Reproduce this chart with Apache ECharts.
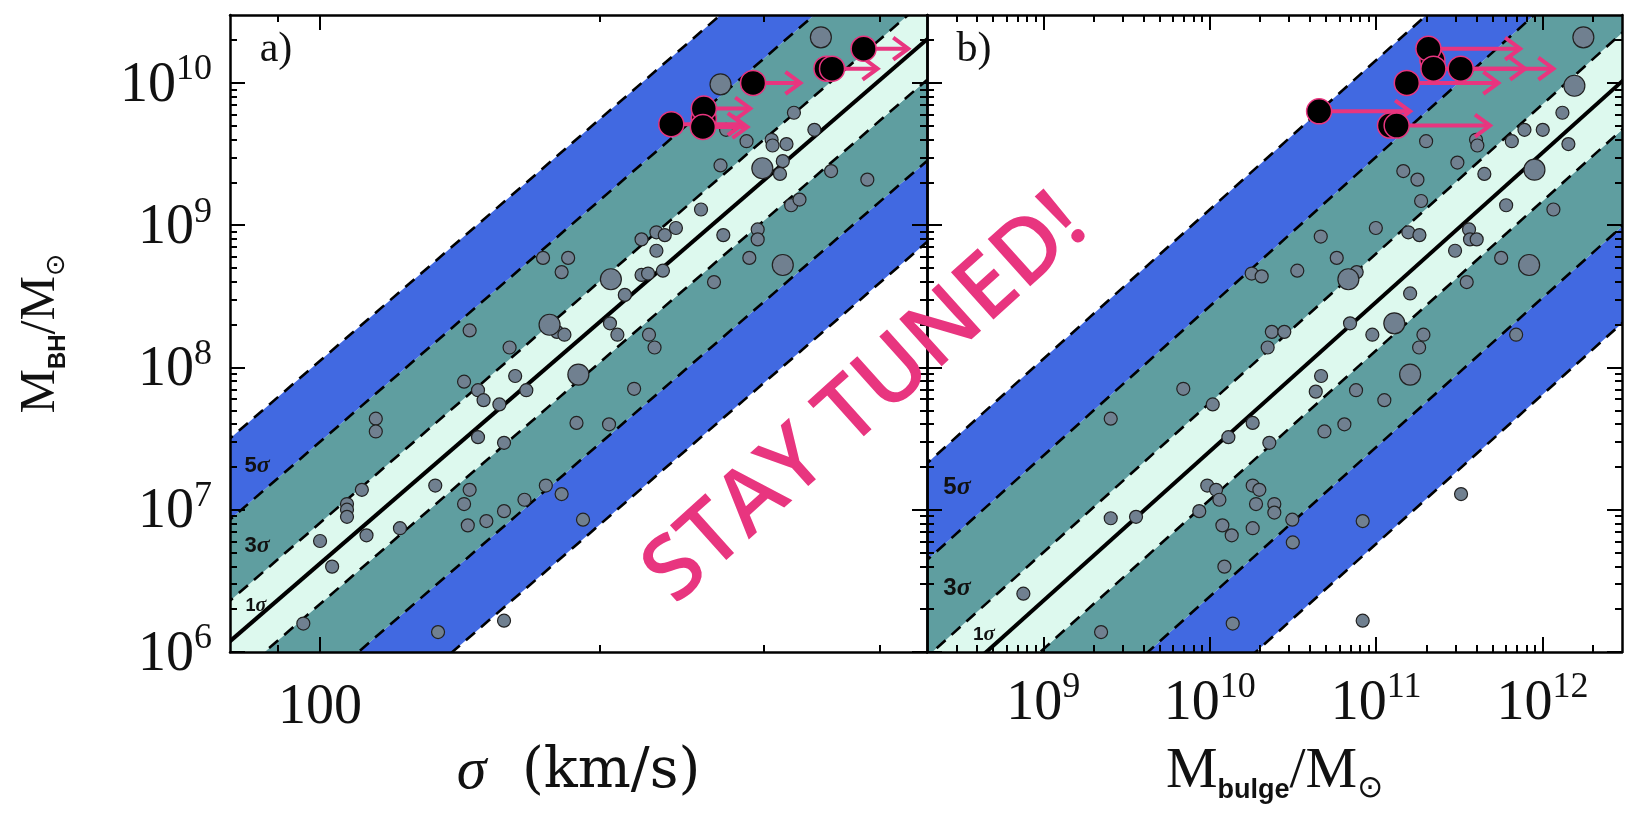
<!DOCTYPE html>
<html>
<head>
<meta charset="utf-8">
<script src="https://cdn.jsdelivr.net/npm/echarts@6/dist/echarts.min.js"></script>
<style>
  html, body { margin: 0; padding: 0; background: #fff; }
  #chart { width: 1625px; height: 814px; }
</style>
</head>
<body>
<div id="chart"></div>
<script>
// ---------------- data (log10 values) ----------------
// Panel a: M_BH vs velocity dispersion (km/s)
const logSigma = [
  2.510, 2.532, 2.437, 2.459, 2.486, 2.487, 2.502, 2.431,
  2.498, 2.495, 2.550, 2.589, 2.410, 2.507, 2.516, 2.362, 2.371, 2.383, 2.346, 2.434, 2.471, 2.471, 2.362, 2.462,
  2.346, 2.353, 2.369, 2.424, 2.328, 2.312, 2.240, 2.267, 2.260, 2.161,
  2.255, 2.263, 2.320, 2.354, 2.360, 2.204, 2.155, 2.170, 2.176, 2.193, 2.210, 2.222,
  2.338, 2.276, 2.311, 2.170, 2.198, 2.124, 2.161, 2.155, 2.159, 2.179, 2.198, 2.220, 2.243, 2.260, 2.283,
  2.198, 2.127, 2.060, 2.060, 2.045, 2.029, 2.029, 2.029, 2.086, 2.050, 2.000, 2.013, 1.982
];
const logMbhSigma = [
  9.79, 9.67, 9.67, 9.59, 9.60, 9.56, 9.57, 9.42,
  9.45, 9.36, 9.38, 9.32, 9.11, 9.14, 9.18, 8.95, 8.93, 8.98, 8.90, 8.93, 8.97, 8.90, 8.82, 8.77,
  8.65, 8.66, 8.68, 8.60, 8.51, 8.31, 8.77, 8.77, 8.67, 8.26,
  8.25, 8.23, 8.23, 8.23, 8.14, 8.14, 7.90, 7.84, 7.77, 7.74, 7.94, 7.84,
  7.85, 7.61, 7.60, 7.51, 7.47, 7.17, 7.14, 7.04, 6.89, 6.92, 6.99, 7.07, 7.17, 7.11, 6.93,
  6.22, 6.14, 7.64, 7.55, 7.14, 7.04, 7.00, 6.95, 6.87, 6.82, 6.78, 6.60, 6.20
];
const logSigmaLarge = [2.539, 2.431, 2.476, 2.498, 2.313, 2.247, 2.278];
const logMbhSigmaLarge = [10.32, 9.99, 9.40, 8.72, 8.62, 8.30, 7.95];
// lower limits on sigma (arrow tips; null = no arrow drawn)
const logSigmaLimit   = [2.413, 2.585, 2.545, 2.551, 2.466, 2.413, 2.378, 2.412];
const logMbhSigmaLim  = [9.75, 10.24, 10.10, 10.10, 10.00, 9.82, 9.71, 9.69];
const logSigmaArrowTo = [null, 2.633, 2.600, null, 2.517, 2.463, 2.455, 2.460];

// Panel b: M_BH vs bulge mass (solar masses)
const logBulge = [
  12.119, 11.891, 12.001, 11.815, 12.155, 11.300, 11.600, 11.608, 11.488, 11.650,
  11.163, 11.248, 11.270, 11.781, 12.065, 10.998, 10.667, 11.193, 11.260, 11.558, 11.564, 11.604, 10.763, 11.474, 11.751,
  10.252, 10.312, 10.526, 10.883, 11.204, 11.544, 10.843, 10.373, 10.448, 10.348, 10.977,
  10.669, 10.637, 10.879, 11.049, 9.841, 10.018, 9.405, 10.258, 10.112, 10.358, 10.689, 10.809,
  9.985, 10.038, 10.058, 10.258, 10.298, 10.278, 10.388, 10.388, 10.496, 9.937, 9.405, 9.557, 10.076, 10.132, 10.258,
  10.499, 10.919, 10.088, 8.880, 9.347, 10.138, 10.919, 11.284, 11.258, 11.841, 11.510
];
const logMbhBulge = [
  9.79, 9.67, 9.67, 9.59, 9.57, 9.59, 9.60, 9.56, 9.44, 9.36,
  9.38, 9.32, 9.17, 9.14, 9.11, 8.98, 8.92, 8.95, 8.93, 8.97, 8.90, 8.90, 8.77, 8.82, 8.77,
  8.66, 8.64, 8.68, 8.67, 8.52, 8.60, 8.31, 8.25, 8.25, 8.14, 8.23,
  7.94, 7.83, 7.84, 7.77, 7.85, 7.74, 7.64, 7.61, 7.51, 7.47, 7.55, 7.60,
  7.17, 7.14, 7.07, 7.17, 7.14, 7.04, 7.04, 6.98, 6.93, 6.99, 6.94, 6.95, 6.89, 6.82, 6.87,
  6.77, 6.92, 6.60, 6.41, 6.14, 6.20, 6.22, 8.23, 8.14, 8.23, 7.11
];
const logBulgeLarge = [12.245, 12.191, 11.951, 11.919, 10.833, 11.109, 11.204];
const logMbhBulgeLarge = [10.32, 9.98, 9.39, 8.72, 8.62, 8.31, 7.95];
const logBulgeLimit   = [11.338, 11.314, 11.344, 11.508, 11.184, 10.657, 11.083, 11.123];
const logMbhBulgeLim  = [10.16, 10.24, 10.10, 10.10, 10.00, 9.80, 9.70, 9.70];
const logBulgeArrowTo = [null, 11.865, 11.895, 12.065, 11.734, 11.204, 11.684, null];

// Scaling relations: [intercept, slope, pivot (log10), intrinsic scatter (dex)]
const fitSigma = [8.32, 5.64, Math.log10(200), 0.285];
const fitBulge = [8.46, 1.05, 11.0, 0.34];
const scatterBands = [[-5, -3], [-3, -1], [-1, 1], [1, 3], [3, 5]];
const scatterLines = [-5, -3, -1, 0, 1, 3, 5];

// Axis ranges and ticks
const sigmaRange = [80, 450];
const bulgeRange = [2e8, 3e12];
const mbhRange = [1e6, 3e10];
const sigmaMajor = [100];
const sigmaMinor = [90, 200, 300, 400];
const bulgeMajor = [1e9, 1e10, 1e11, 1e12];
const mbhMajor = [1e6, 1e7, 1e8, 1e9, 1e10];

// ---------------- styling ----------------
const BLUE = '#4169E1', TEAL = '#5F9EA0', MINT = '#DDF9EE';
const GRAY = '#708090', PINK = '#E8357F';
const SERIF = '"Liberation Serif", "DejaVu Serif", serif';
const WIDE_SERIF = '"DejaVu Serif", "Liberation Serif", serif';
const SANS = '"Liberation Sans", "DejaVu Sans", sans-serif';
const bandColors = [BLUE, TEAL, MINT, TEAL, BLUE];

function decadeMinors(lo, hi) {
  const out = [];
  for (let e = Math.floor(Math.log10(lo)); e <= Math.ceil(Math.log10(hi)); e++) {
    for (let m = 2; m <= 9; m++) {
      const v = m * Math.pow(10, e);
      if (v > lo * 1.001 && v < hi * 0.999) out.push(v);
    }
  }
  return out;
}
const bulgeMinor = decadeMinors(bulgeRange[0], bulgeRange[1]);
const mbhMinor = decadeMinors(mbhRange[0], mbhRange[1]);

const pow10 = v => Math.pow(10, v);
const powLabel = v => '{b|10}{e|' + Math.round(Math.log10(v)) + '}';
const powRich = {
  b: { fontFamily: SERIF, fontSize: 56, color: '#111', lineHeight: 62, verticalAlign: 'bottom' },
  e: { fontFamily: SERIF, fontSize: 36, color: '#111', lineHeight: 35, verticalAlign: 'top' }
};
const xNameRich = {
  m: { fontFamily: SERIF, fontSize: 58, color: '#111', lineHeight: 64 },
  w: { fontFamily: WIDE_SERIF, fontSize: 56, color: '#111', lineHeight: 64 },
  i: { fontFamily: SERIF, fontStyle: 'italic', fontSize: 60, color: '#111', lineHeight: 64 },
  s: { fontFamily: SANS, fontWeight: 'bold', fontSize: 27, color: '#111', lineHeight: 34, verticalAlign: 'bottom' },
  o: { fontFamily: '"DejaVu Sans", sans-serif', fontSize: 31, color: '#111', lineHeight: 34, verticalAlign: 'bottom' }
};
const yNameRich = {
  m: { fontFamily: SERIF, fontSize: 50, color: '#111', lineHeight: 58 },
  s: { fontFamily: SANS, fontWeight: 'bold', fontSize: 24, color: '#111', lineHeight: 32, verticalAlign: 'bottom' },
  o: { fontFamily: '"DejaVu Sans", sans-serif', fontSize: 27, color: '#111', lineHeight: 32, verticalAlign: 'bottom' }
};

function logAxis(o) {
  const base = {
    type: 'log', logBase: 10, gridIndex: o.grid, position: o.pos,
    min: o.range[0], max: o.range[1], z: 20, silent: true,
    splitLine: { show: false },
    axisLine: { show: !!o.line, onZero: false, lineStyle: { color: '#000', width: 2.5 } },
    axisTick: { show: true, inside: true, length: o.len, customValues: o.ticks,
                lineStyle: { color: '#000', width: 2 } },
    axisLabel: { show: false }
  };
  if (o.label) base.axisLabel = o.label;
  if (o.name) Object.assign(base, o.name);
  return base;
}

// bottom/top (x) and left/right (y) axes for one panel: major + minor tick layers
function panelAxes(grid, xr, xMaj, xMin, xLabel, xName, yLabel, yName) {
  const xs = [
    logAxis({ grid, pos: 'bottom', range: xr, ticks: xMaj, len: 15, line: true, label: xLabel, name: xName }),
    logAxis({ grid, pos: 'bottom', range: xr, ticks: xMin, len: 7 }),
    logAxis({ grid, pos: 'top', range: xr, ticks: xMaj, len: 15, line: true }),
    logAxis({ grid, pos: 'top', range: xr, ticks: xMin, len: 7 })
  ];
  const ys = [
    logAxis({ grid, pos: 'left', range: mbhRange, ticks: mbhMajor, len: 15, line: true, label: yLabel, name: yName }),
    logAxis({ grid, pos: 'left', range: mbhRange, ticks: mbhMinor, len: 7 }),
    logAxis({ grid, pos: 'right', range: mbhRange, ticks: mbhMajor, len: 15, line: true }),
    logAxis({ grid, pos: 'right', range: mbhRange, ticks: mbhMinor, len: 7 })
  ];
  return { xs, ys };
}

const axesA = panelAxes(0, sigmaRange, sigmaMajor, sigmaMinor,
  { show: true, customValues: sigmaMajor, margin: 22, formatter: v => '{b|' + Math.round(v) + '}', rich: powRich },
  { name: '{i|σ}{w|  (km/s)}', nameLocation: 'middle', nameGap: 88, nameTextStyle: { rich: xNameRich } },
  { show: true, customValues: mbhMajor, margin: 18, formatter: powLabel, rich: powRich },
  { name: '{m|M}{s|BH}{m|/M}{o|⊙}', nameLocation: 'middle', nameGap: 160, nameRotate: 90,
    nameTextStyle: { rich: yNameRich } }
);
const axesB = panelAxes(1, bulgeRange, bulgeMajor, bulgeMinor,
  { show: true, customValues: bulgeMajor, margin: 18, formatter: powLabel, rich: powRich },
  { name: '{m|M}{s|bulge}{m|/M}{o|⊙}', nameLocation: 'middle', nameGap: 88, nameTextStyle: { rich: xNameRich } },
  { show: false }, null
);

// ---------------- series builders ----------------
function relation(fit, lx, k) { return fit[0] + fit[1] * (lx - fit[2]) + k * fit[3]; }

function bandSeries(xi, yi, xr, fit) {
  const l0 = Math.log10(xr[0]) - 0.3, l1 = Math.log10(xr[1]) + 0.3;
  return {
    type: 'custom', xAxisIndex: xi, yAxisIndex: yi, clip: true, z: 1, silent: true,
    encode: { x: [0, 1], y: [2, 3, 4, 5] },
    data: scatterBands.map(([lo, hi]) => [pow10(l0), pow10(l1),
      pow10(relation(fit, l0, lo)), pow10(relation(fit, l1, lo)),
      pow10(relation(fit, l0, hi)), pow10(relation(fit, l1, hi))]),
    renderItem: (params, api) => ({
      type: 'polygon',
      shape: { points: [
        api.coord([api.value(0), api.value(2)]), api.coord([api.value(1), api.value(3)]),
        api.coord([api.value(1), api.value(5)]), api.coord([api.value(0), api.value(4)])] },
      style: { fill: bandColors[params.dataIndex] }
    })
  };
}

function lineSeries(xi, yi, xr, fit) {
  const l0 = Math.log10(xr[0]) - 0.3, l1 = Math.log10(xr[1]) + 0.3;
  return {
    type: 'custom', xAxisIndex: xi, yAxisIndex: yi, clip: true, z: 2, silent: true,
    encode: { x: [0, 1], y: [2, 3] },
    data: scatterLines.map(k => [pow10(l0), pow10(l1), pow10(relation(fit, l0, k)), pow10(relation(fit, l1, k))]),
    renderItem: (params, api) => {
      const k = scatterLines[params.dataIndex];
      const a = api.coord([api.value(0), api.value(2)]);
      const b = api.coord([api.value(1), api.value(3)]);
      return {
        type: 'line', shape: { x1: a[0], y1: a[1], x2: b[0], y2: b[1] },
        style: k === 0 ? { stroke: '#000', lineWidth: 4 }
                       : { stroke: '#000', lineWidth: 2.6, lineDash: [12, 8] }
      };
    }
  };
}

function pointSeries(xi, yi, xs, ys, size) {
  return {
    type: 'scatter', xAxisIndex: xi, yAxisIndex: yi, z: 3, silent: true,
    symbolSize: size,
    itemStyle: { color: GRAY, borderColor: '#222', borderWidth: 1.2, opacity: 1 },
    data: xs.map((x, i) => [pow10(x), pow10(ys[i])])
  };
}

function arrowSeries(xi, yi, xs, ys, tos) {
  const data = [];
  xs.forEach((x, i) => { if (tos[i] != null) data.push([pow10(x), pow10(ys[i]), pow10(tos[i])]); });
  return {
    type: 'custom', xAxisIndex: xi, yAxisIndex: yi, z: 4, silent: true,
    encode: { x: [0, 2], y: 1 },
    data,
    renderItem: (params, api) => {
      const p0 = api.coord([api.value(0), api.value(1)]);
      const p1 = api.coord([api.value(2), api.value(1)]);
      const hl = 15, hw = 11;
      return {
        type: 'group', children: [
          { type: 'line', shape: { x1: p0[0], y1: p0[1], x2: p1[0], y2: p1[1] },
            style: { stroke: PINK, lineWidth: 4 } },
          { type: 'polyline', shape: { points: [[p1[0] - hl, p1[1] - hw], p1, [p1[0] - hl, p1[1] + hw]] },
            style: { stroke: PINK, lineWidth: 4, fill: null, lineJoin: 'miter' } }
        ]
      };
    }
  };
}

function limitSeries(xi, yi, xs, ys) {
  return {
    type: 'scatter', xAxisIndex: xi, yAxisIndex: yi, z: 5, silent: true,
    symbolSize: 25,
    itemStyle: { color: '#000', borderColor: PINK, borderWidth: 1.5, opacity: 1 },
    data: xs.map((x, i) => [pow10(x), pow10(ys[i])])
  };
}

function panelLabels() {
  const t = (x, y, text, size, extra) => ({
    type: 'text', x, y, z: 50, silent: true,
    style: Object.assign({ text, fontSize: size, fill: '#111', align: 'center', verticalAlign: 'middle' }, extra || {})
  });
  const sig = (x, y, n, size) => ({
    type: 'text', x, y, z: 50, silent: true,
    style: { text: '{n|' + n + '}{s|σ}', align: 'center', verticalAlign: 'middle',
      rich: { n: { fontFamily: SANS, fontWeight: 'bold', fontSize: size, fill: '#111' },
              s: { fontFamily: SERIF, fontStyle: 'italic', fontWeight: 'bold', fontSize: size + 2, fill: '#111' } } }
  });
  return [
    t(276, 50, 'a)', 42, { fontFamily: SERIF }),
    t(974, 50, 'b)', 42, { fontFamily: SERIF }),
    sig(257, 466, '5', 22), sig(257, 546, '3', 22), sig(256, 606, '1', 18),
    sig(957, 487, '5', 24), sig(957, 588, '3', 24), sig(984, 635, '1', 19),
    { type: 'text', x: 866, y: 400, rotation: 42 * Math.PI / 180, z: 100, silent: true,
      style: { text: 'STAY TUNED!', fontFamily: '"Open Sans", "Lato", sans-serif', fontWeight: 600,
               fontSize: 89, fill: PINK, align: 'center', verticalAlign: 'middle' } }
  ];
}

const chart = echarts.init(document.getElementById('chart'), null, { renderer: 'canvas' });
chart.setOption({
  animation: false,
  backgroundColor: '#fff',
  grid: [
    { left: 230, top: 15, width: 697, height: 637 },
    { left: 927, top: 15, width: 695, height: 637 }
  ],
  xAxis: axesA.xs.concat(axesB.xs),
  yAxis: axesA.ys.concat(axesB.ys),
  series: [
    bandSeries(0, 0, sigmaRange, fitSigma),
    lineSeries(0, 0, sigmaRange, fitSigma),
    pointSeries(0, 0, logSigma, logMbhSigma, 13),
    pointSeries(0, 0, logSigmaLarge, logMbhSigmaLarge, 21),
    arrowSeries(0, 0, logSigmaLimit, logMbhSigmaLim, logSigmaArrowTo),
    limitSeries(0, 0, logSigmaLimit, logMbhSigmaLim),
    bandSeries(4, 4, bulgeRange, fitBulge),
    lineSeries(4, 4, bulgeRange, fitBulge),
    pointSeries(4, 4, logBulge, logMbhBulge, 13),
    pointSeries(4, 4, logBulgeLarge, logMbhBulgeLarge, 21),
    arrowSeries(4, 4, logBulgeLimit, logMbhBulgeLim, logBulgeArrowTo),
    limitSeries(4, 4, logBulgeLimit, logMbhBulgeLim)
  ],
  graphic: panelLabels()
});
</script>
</body>
</html>
